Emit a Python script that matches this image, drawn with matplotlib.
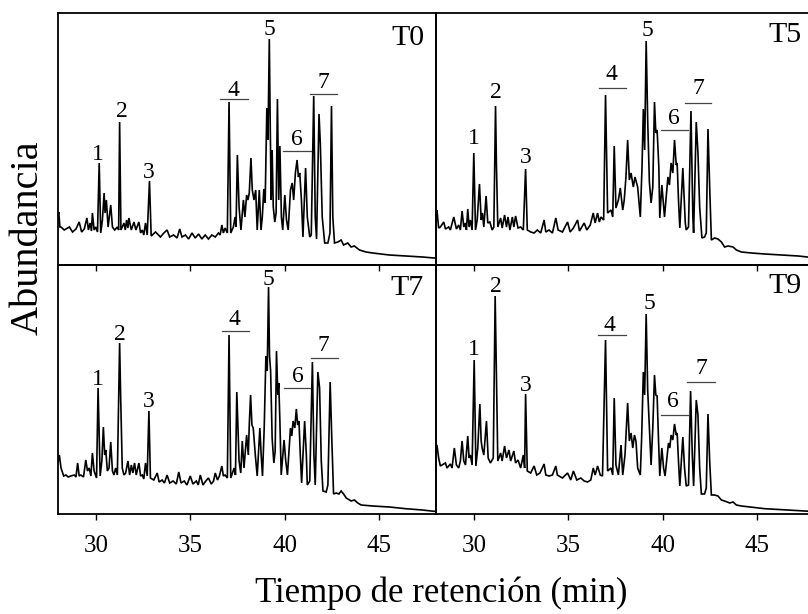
import matplotlib
matplotlib.use("Agg")
import matplotlib.pyplot as plt

plt.rcParams['font.family'] = ['Liberation Serif', 'DejaVu Serif']

# ---------------- data ----------------
panel_names = ["T0", "T5", "T7", "T9"]
x_ticks = [30, 35, 40, 45]
x_label = "Tiempo de retención (min)"
y_label = "Abundancia"
peak_labels = ["1", "2", "3", "4", "5", "6", "7"]

t0_time = [28.0, 28.04, 28.1, 28.16, 28.33, 28.6, 28.77, 28.95, 29.12, 29.25, 29.39, 29.53, 29.61, 29.7,
           29.77, 29.82, 29.91, 30.0, 30.09, 30.18, 30.26, 30.35, 30.44, 30.49, 30.56, 30.65, 30.79, 30.88,
           31.0, 31.14, 31.21, 31.26, 31.33, 31.49, 31.56, 31.63, 31.7, 31.75, 31.88, 32.02, 32.12, 32.28,
           32.37, 32.46, 32.54, 32.63, 32.72, 32.84, 32.93, 33.16, 33.42, 33.6, 33.77, 33.91, 34.12, 34.3,
           34.44, 34.56, 34.74, 34.91, 35.09, 35.26, 35.44, 35.61, 35.79, 35.96, 36.14, 36.32, 36.49, 36.58,
           36.67, 36.75, 36.84, 36.96, 37.05, 37.14, 37.28, 37.37, 37.42, 37.49, 37.58, 37.68, 37.81, 37.89,
           37.98, 38.05, 38.12, 38.21, 38.28, 38.37, 38.46, 38.54, 38.65, 38.74, 38.81, 38.89, 38.96, 39.05,
           39.11, 39.18, 39.23, 39.28, 39.33, 39.39, 39.47, 39.54, 39.61, 39.68, 39.74, 39.82, 39.89, 40.0,
           40.09, 40.18, 40.3, 40.39, 40.47, 40.56, 40.65, 40.72, 40.79, 40.88, 40.96, 41.1, 41.19, 41.32,
           41.4, 41.53, 41.61, 41.68, 41.81, 41.88, 41.98, 42.11, 42.28, 42.39, 42.47, 42.54, 42.63, 42.81,
           42.98, 43.11, 43.33, 43.51, 43.68, 43.95, 44.3, 44.65, 45.53, 46.4, 47.28, 47.89, 48.0]
t0_abund = [50, 53, 38, 38, 35, 38, 33, 36, 43, 33, 36, 47, 35, 42,
            34, 52, 35, 38, 33, 102, 32, 45, 72, 52, 65, 38, 60, 38,
            35, 38, 35, 143, 35, 42, 35, 45, 37, 47, 35, 43, 35, 43,
            32, 35, 30, 42, 30, 84, 29, 33, 28, 32, 35, 28, 30, 27,
            36, 28, 30, 26, 32, 27, 31, 26, 30, 26, 30, 28, 32, 30,
            40, 32, 37, 32, 163, 32, 38, 48, 38, 110, 58, 35, 65, 48,
            70, 65, 72, 107, 75, 65, 75, 35, 75, 35, 48, 76, 62, 157,
            125, 226, 138, 65, 115, 58, 43, 52, 166, 65, 119, 48, 35, 70,
            45, 35, 75, 82, 65, 92, 105, 88, 92, 65, 28, 97, 48, 28,
            30, 169, 48, 26, 151, 121, 48, 22, 22, 32, 159, 48, 22, 23,
            25, 20, 22, 18, 19, 15, 13, 12, 10, 9, 8, 7, 7]

t5_time = [28.0, 28.05, 28.14, 28.23, 28.41, 28.5, 28.67, 28.76, 28.94, 29.08, 29.2, 29.29, 29.38, 29.47,
           29.56, 29.61, 29.68, 29.75, 29.82, 29.91, 30.0, 30.09, 30.18, 30.3, 30.39, 30.46, 30.53, 30.65,
           30.74, 30.85, 30.97, 31.06, 31.15, 31.2, 31.27, 31.42, 31.5, 31.63, 31.73, 31.81, 31.91, 32.04,
           32.12, 32.21, 32.34, 32.48, 32.62, 32.74, 32.83, 33.01, 33.19, 33.36, 33.54, 33.72, 33.81, 33.98,
           34.16, 34.34, 34.46, 34.69, 34.96, 35.1, 35.27, 35.49, 35.59, 35.84, 35.98, 36.16, 36.32, 36.42,
           36.55, 36.64, 36.73, 36.87, 36.97, 37.08, 37.26, 37.35, 37.43, 37.52, 37.65, 37.75, 37.88, 37.96,
           38.05, 38.14, 38.23, 38.32, 38.44, 38.53, 38.67, 38.81, 38.9, 38.97, 39.04, 39.12, 39.2, 39.29,
           39.38, 39.47, 39.56, 39.63, 39.7, 39.79, 39.84, 39.95, 40.09, 40.27, 40.35, 40.44, 40.53, 40.62,
           40.71, 40.76, 40.83, 40.9, 41.06, 41.19, 41.24, 41.36, 41.49, 41.59, 41.63, 41.77, 41.86, 41.95,
           42.07, 42.21, 42.3, 42.39, 42.48, 42.57, 42.74, 42.92, 43.1, 43.27, 43.45, 43.72, 43.89, 44.16,
           44.69, 45.4, 46.28, 47.17, 47.79, 48.0]
t5_abund = [50, 55, 37, 38, 43, 36, 38, 35, 48, 36, 40, 35, 54, 38,
            42, 35, 56, 38, 45, 35, 112, 35, 45, 81, 45, 52, 38, 69,
            42, 43, 35, 38, 159, 98, 38, 47, 37, 50, 38, 48, 35, 48,
            38, 49, 37, 38, 35, 96, 35, 33, 32, 35, 32, 45, 33, 35,
            32, 47, 35, 33, 43, 33, 37, 45, 34, 42, 35, 40, 52, 42,
            52, 43, 48, 45, 170, 52, 55, 48, 119, 57, 65, 77, 55, 65,
            88, 125, 85, 92, 78, 88, 78, 48, 98, 156, 115, 224, 145, 83,
            62, 78, 163, 132, 135, 98, 47, 80, 48, 88, 80, 102, 92, 125,
            100, 102, 65, 37, 97, 42, 35, 38, 154, 48, 32, 143, 112, 58,
            27, 28, 32, 136, 78, 25, 27, 26, 23, 18, 19, 18, 15, 13,
            12, 11, 10, 9, 7.7, 7.5]

t7_time = [28.0, 28.07, 28.16, 28.3, 28.42, 28.54, 28.68, 28.86, 28.95, 29.04, 29.12, 29.21, 29.35, 29.47,
           29.56, 29.65, 29.74, 29.82, 29.91, 30.04, 30.12, 30.23, 30.32, 30.4, 30.47, 30.53, 30.61, 30.7,
           30.79, 30.88, 30.96, 31.05, 31.14, 31.26, 31.32, 31.4, 31.49, 31.58, 31.7, 31.79, 31.88, 31.96,
           32.05, 32.14, 32.28, 32.37, 32.46, 32.54, 32.63, 32.72, 32.81, 32.89, 33.07, 33.25, 33.35, 33.51,
           33.63, 33.77, 33.91, 34.09, 34.26, 34.39, 34.51, 34.68, 34.82, 35.0, 35.14, 35.32, 35.42, 35.53,
           35.67, 35.82, 35.96, 36.11, 36.23, 36.32, 36.44, 36.54, 36.67, 36.75, 36.84, 36.96, 37.05, 37.14,
           37.23, 37.32, 37.39, 37.46, 37.58, 37.67, 37.75, 37.84, 37.98, 38.07, 38.12, 38.19, 38.26, 38.33,
           38.44, 38.54, 38.68, 38.75, 38.82, 38.91, 39.0, 39.07, 39.14, 39.19, 39.25, 39.33, 39.42, 39.49,
           39.56, 39.63, 39.68, 39.74, 39.81, 39.96, 40.05, 40.14, 40.3, 40.37, 40.44, 40.53, 40.61, 40.68,
           40.75, 40.82, 40.89, 41.05, 41.14, 41.19, 41.32, 41.46, 41.54, 41.61, 41.75, 41.84, 41.93, 42.02,
           42.19, 42.28, 42.4, 42.49, 42.58, 42.72, 42.86, 42.98, 43.11, 43.25, 43.51, 43.68, 43.86, 44.04,
           44.65, 45.53, 46.4, 47.28, 47.89, 48.0]
t7_abund = [52, 59, 46, 38, 39, 37, 38, 39, 37, 51, 38, 39, 37, 54,
            43, 46, 38, 61, 43, 36, 126, 38, 53, 87, 59, 64, 43, 46,
            72, 43, 39, 46, 39, 171, 113, 46, 39, 41, 53, 39, 49, 41,
            51, 39, 51, 38, 39, 35, 51, 38, 103, 36, 34, 41, 32, 34,
            31, 39, 31, 33, 30, 42, 31, 33, 29, 38, 30, 33, 29, 39,
            29, 33, 36, 30, 33, 41, 34, 38, 48, 38, 39, 36, 179, 36,
            41, 46, 39, 122, 53, 41, 73, 46, 79, 59, 89, 119, 89, 86,
            59, 38, 86, 59, 38, 86, 158, 143, 227, 159, 143, 76, 51, 63,
            163, 119, 131, 93, 39, 74, 53, 39, 86, 78, 93, 86, 105, 89,
            93, 59, 31, 93, 59, 29, 33, 152, 59, 29, 142, 126, 53, 23,
            22, 29, 132, 73, 20, 21, 20, 23, 20, 16, 13, 14, 11, 9,
            8, 7, 5.3, 4, 2.7, 2.6]

t9_time = [28.0, 28.05, 28.14, 28.23, 28.41, 28.5, 28.58, 28.67, 28.76, 28.85, 28.97, 29.08, 29.2, 29.29,
           29.38, 29.47, 29.56, 29.68, 29.75, 29.82, 29.91, 30.02, 30.11, 30.21, 30.32, 30.39, 30.44, 30.53,
           30.67, 30.76, 30.88, 31.03, 31.13, 31.2, 31.27, 31.42, 31.5, 31.63, 31.73, 31.86, 31.95, 32.12,
           32.21, 32.34, 32.48, 32.62, 32.69, 32.74, 32.83, 33.01, 33.19, 33.33, 33.5, 33.72, 33.81, 33.98,
           34.16, 34.34, 34.42, 34.69, 34.96, 35.13, 35.27, 35.45, 35.66, 35.84, 36.02, 36.19, 36.32, 36.42,
           36.55, 36.69, 36.81, 36.97, 37.08, 37.26, 37.35, 37.43, 37.52, 37.65, 37.79, 37.88, 38.0, 38.14,
           38.23, 38.32, 38.41, 38.5, 38.58, 38.67, 38.81, 38.88, 38.97, 39.04, 39.12, 39.2, 39.29, 39.38,
           39.47, 39.56, 39.63, 39.7, 39.77, 39.84, 39.95, 40.04, 40.12, 40.3, 40.37, 40.44, 40.53, 40.62,
           40.71, 40.76, 40.83, 40.9, 41.06, 41.15, 41.24, 41.36, 41.47, 41.56, 41.63, 41.77, 41.86, 41.95,
           42.04, 42.21, 42.3, 42.39, 42.48, 42.57, 42.74, 42.92, 43.1, 43.27, 43.54, 43.72, 43.89, 44.16,
           45.4, 47.17, 47.79, 48.0]
t9_abund = [62, 69, 56, 48, 50, 51, 46, 48, 50, 46, 66, 49, 46, 53,
            73, 53, 49, 78, 56, 59, 49, 154, 48, 66, 110, 73, 66, 59,
            93, 56, 51, 56, 218, 134, 53, 61, 53, 68, 56, 64, 53, 63,
            51, 54, 46, 59, 46, 120, 43, 41, 48, 39, 41, 50, 39, 38,
            39, 48, 39, 36, 41, 34, 43, 34, 36, 33, 32, 34, 46, 39,
            48, 39, 38, 174, 43, 46, 39, 116, 49, 39, 69, 39, 59, 111,
            73, 81, 66, 79, 73, 46, 39, 76, 142, 119, 200, 124, 86, 49,
            86, 139, 119, 118, 76, 38, 66, 46, 38, 71, 66, 79, 74, 90,
            79, 81, 53, 28, 77, 46, 28, 29, 123, 59, 28, 114, 99, 46,
            20, 20, 26, 100, 53, 19, 19, 18, 14, 13, 11, 12, 9, 8,
            5.3, 3.3, 2.7, 2.6]

series_time = [t0_time, t5_time, t7_time, t9_time]
series_abund = [t0_abund, t5_abund, t7_abund, t9_abund]

# ---------------- layout (annotation positions, in data units) ----------------
# (time, baseline) for the peak numbers 1..7 in each panel
label_pos = [
    [(30.13, 105), (31.37, 148), (32.81, 87), (37.28, 169), (39.18, 230), (40.63, 120), (42.04, 177)],
    [(30.00, 121), (31.19, 167), (32.74, 102), (37.26, 185), (39.17, 229), (40.58, 141), (41.86, 171)],
    [(30.09, 129), (31.26, 174), (32.81, 107), (37.32, 189), (39.14, 229), (40.70, 132), (42.05, 163)],
    [(30.02, 159), (31.19, 222), (32.74, 123), (37.20, 183), (39.29, 205), (40.53, 107), (42.04, 140)],
]
# bars over the groups 4, 6, 7: (t_start, t_end, level)
bar_pos = [
    [(36.57, 38.07, 166), (39.92, 41.37, 114), (41.33, 42.78, 171)],
    [(36.64, 38.05, 177), (39.88, 41.33, 135), (41.15, 42.57, 162)],
    [(36.70, 38.12, 183), (39.95, 41.35, 126), (41.37, 42.81, 156)],
    [(36.58, 38.05, 179), (39.88, 41.33, 99), (41.29, 42.74, 132)],
]
name_pos = [(47.42, 220), (47.35, 223), (47.37, 219), (47.35, 221)]

W, H = 808, 614
fig = plt.figure(figsize=(W / 100, H / 100), dpi=100)

col_x = [58, 436]
panel_w = 378
row_specs = [(13.3, 265.0), (265.0, 514.0)]  # (top, bottom) in pixels

for i in range(4):
    r, c = divmod(i, 2)
    top, bot = row_specs[r]
    ax = fig.add_axes([col_x[c] / W, (H - bot) / H, panel_w / W, (bot - top) / H])
    ax.plot(series_time[i], series_abund[i], color='black', lw=1.2, solid_joinstyle='miter')
    ax.set_xlim(28, 48)
    ax.set_ylim(0, bot - top)
    ax.set_xticks(x_ticks)
    ax.set_yticks([])
    ax.tick_params(axis='x', direction='out', length=4, width=1.0, pad=11,
                   labelsize=18, labelbottom=(r == 1))
    for sp in ax.spines.values():
        sp.set_linewidth(1.3)
    for lab, (tx, ty) in zip(peak_labels, label_pos[i]):
        ax.text(tx, ty, lab, fontsize=17, ha='center', va='baseline')
    for (t1, t2, lv) in bar_pos[i]:
        ax.plot([t1, t2], [lv, lv], color='#444444', lw=0.9)
    nx, ny = name_pos[i]
    ax.text(nx, ny, panel_names[i], fontsize=21.5, ha='right', va='baseline')
    ax.patch.set_alpha(0)

fig.text(441 / W, (H - 602) / H, x_label, fontsize=25, ha='center', va='baseline')
fig.text(28 / W, (H - 237.5) / H, y_label, fontsize=29, rotation=90, ha='center', va='center')

fig.savefig("out.png", dpi=100)
